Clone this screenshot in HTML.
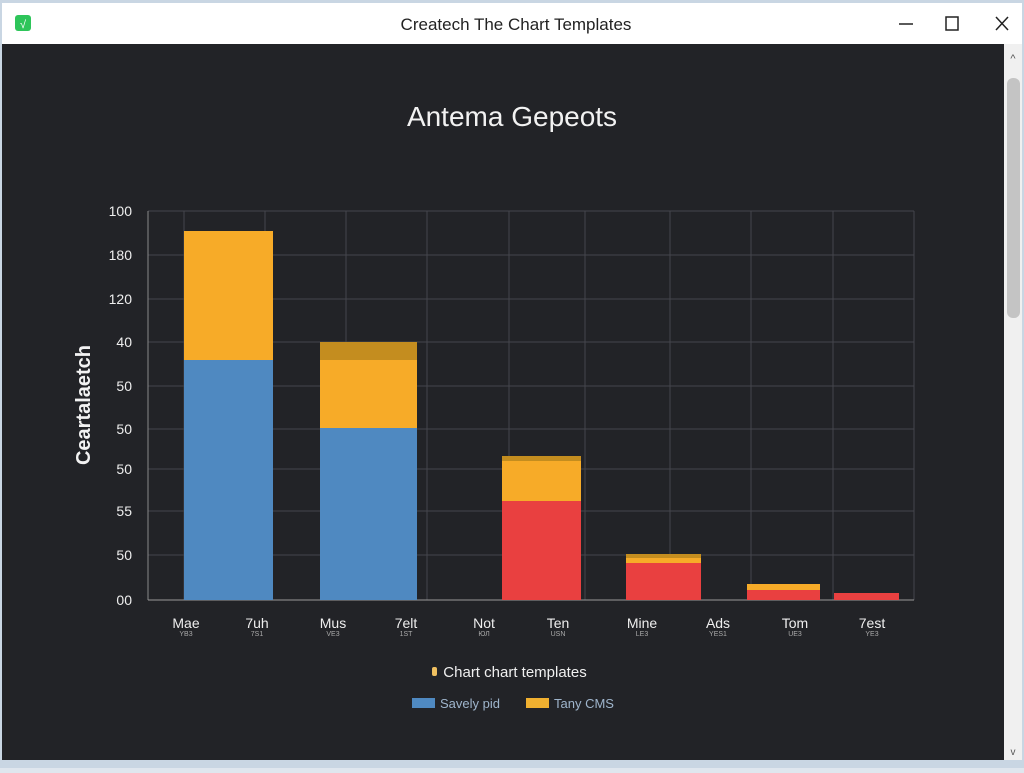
<!DOCTYPE html>
<html><head><style>
body{margin:0;width:1024px;height:768px;overflow:hidden;background:#dfe6ee;font-family:"Liberation Sans",sans-serif}
</style></head><body>
<svg width="1024" height="768" xmlns="http://www.w3.org/2000/svg" font-family="Liberation Sans, sans-serif">
<rect x="0" y="0" width="1024" height="768" fill="#c9d6e3"/>
<rect x="2" y="3" width="1020" height="41" fill="#ffffff"/>
<rect x="15" y="15" width="16" height="16" rx="3" fill="#2ec55a"/>
<text x="23" y="28" font-size="11" fill="#fff" text-anchor="middle">√</text>
<text x="516" y="30" font-size="17" fill="#222" text-anchor="middle">Createch The Chart Templates</text>
<line x1="899" y1="24" x2="913" y2="24" stroke="#222" stroke-width="1.5"/>
<rect x="946" y="17" width="12" height="13" fill="none" stroke="#222" stroke-width="1.5"/>
<path d="M996 17 L1008 30 M1008 17 L996 30" stroke="#222" stroke-width="1.5"/>
<rect x="2" y="44" width="1002" height="716" fill="#222327"/>
<rect x="1004" y="44" width="18" height="716" fill="#f0f0f0"/>
<rect x="1007" y="78" width="13" height="240" rx="6" fill="#c4c4c4"/>
<text x="1013" y="62" font-size="11" fill="#555" text-anchor="middle">^</text>
<text x="1013" y="755" font-size="10" fill="#555" text-anchor="middle">v</text>
<text x="512" y="126" font-size="28" fill="#f2f2f2" text-anchor="middle">Antema Gepeots</text>
<g stroke="#44464c" stroke-width="1">
<line x1="148" y1="211" x2="914" y2="211"/><line x1="148" y1="255" x2="914" y2="255"/><line x1="148" y1="299" x2="914" y2="299"/><line x1="148" y1="342" x2="914" y2="342"/><line x1="148" y1="386" x2="914" y2="386"/><line x1="148" y1="429" x2="914" y2="429"/><line x1="148" y1="469" x2="914" y2="469"/><line x1="148" y1="511" x2="914" y2="511"/><line x1="148" y1="555" x2="914" y2="555"/>
<line x1="184" y1="211" x2="184" y2="600"/><line x1="265" y1="211" x2="265" y2="600"/><line x1="346" y1="211" x2="346" y2="600"/><line x1="427" y1="211" x2="427" y2="600"/><line x1="509" y1="211" x2="509" y2="600"/><line x1="585" y1="211" x2="585" y2="600"/><line x1="670" y1="211" x2="670" y2="600"/><line x1="751" y1="211" x2="751" y2="600"/><line x1="833" y1="211" x2="833" y2="600"/><line x1="914" y1="211" x2="914" y2="600"/>
</g>
<line x1="148" y1="211" x2="148" y2="600" stroke="#888" />
<line x1="148" y1="600" x2="914" y2="600" stroke="#999"/>
<g fill="#eee" font-size="14" text-anchor="end">
<text x="132" y="216">100</text><text x="132" y="260">180</text><text x="132" y="304">120</text><text x="132" y="347">40</text><text x="132" y="391">50</text><text x="132" y="434">50</text><text x="132" y="474">50</text><text x="132" y="516">55</text><text x="132" y="560">50</text><text x="132" y="605">00</text>
</g>
<text transform="translate(90,405) rotate(-90)" font-size="20" fill="#f2f2f2" text-anchor="middle" font-weight="bold">Ceartalaetch</text>
<rect x="184" y="231" width="89" height="129" fill="#f7ab28"/>
<rect x="184" y="360" width="89" height="240" fill="#4f89c1"/>
<rect x="320" y="342" width="97" height="18" fill="#c48d1f"/>
<rect x="320" y="360" width="97" height="68" fill="#f7ab28"/>
<rect x="320" y="428" width="97" height="172" fill="#4f89c1"/>
<rect x="502" y="456" width="79" height="5" fill="#c48d1f"/>
<rect x="502" y="461" width="79" height="40" fill="#f7ab28"/>
<rect x="502" y="501" width="79" height="99" fill="#e94040"/>
<rect x="626" y="554" width="75" height="4" fill="#c48d1f"/>
<rect x="626" y="558" width="75" height="5" fill="#f7ab28"/>
<rect x="626" y="563" width="75" height="37" fill="#e94040"/>
<rect x="747" y="584" width="73" height="6" fill="#f7ab28"/>
<rect x="747" y="590" width="73" height="10" fill="#e94040"/>
<rect x="834" y="593" width="65" height="7" fill="#e94040"/>
<g fill="#eee" font-size="14" text-anchor="middle">
<text x="186" y="628">Mae</text><text x="257" y="628">7uh</text><text x="333" y="628">Mus</text><text x="406" y="628">7elt</text><text x="484" y="628">Not</text><text x="558" y="628">Ten</text><text x="642" y="628">Mine</text><text x="718" y="628">Ads</text><text x="795" y="628">Tom</text><text x="872" y="628">7est</text>
</g>
<g fill="#aaa" font-size="7" text-anchor="middle">
<text x="186" y="636">YB3</text><text x="257" y="636">7S1</text><text x="333" y="636">VE3</text><text x="406" y="636">1ST</text><text x="484" y="636">ЮЛ</text><text x="558" y="636">USN</text><text x="642" y="636">LE3</text><text x="718" y="636">YES1</text><text x="795" y="636">UE3</text><text x="872" y="636">YE3</text>
</g>
<rect x="432" y="667" width="5" height="9" rx="2" fill="#f0c060"/>
<text x="515" y="677" font-size="15" fill="#f0f0f0" text-anchor="middle">Chart chart templates</text>
<rect x="412" y="698" width="23" height="10" fill="#4f89c1"/>
<text x="440" y="708" font-size="13" fill="#9fb5cc">Savely pid</text>
<rect x="526" y="698" width="23" height="10" fill="#f0b030"/>
<text x="554" y="708" font-size="13" fill="#9fb5cc">Tany CMS</text>
</svg>
</body></html>
